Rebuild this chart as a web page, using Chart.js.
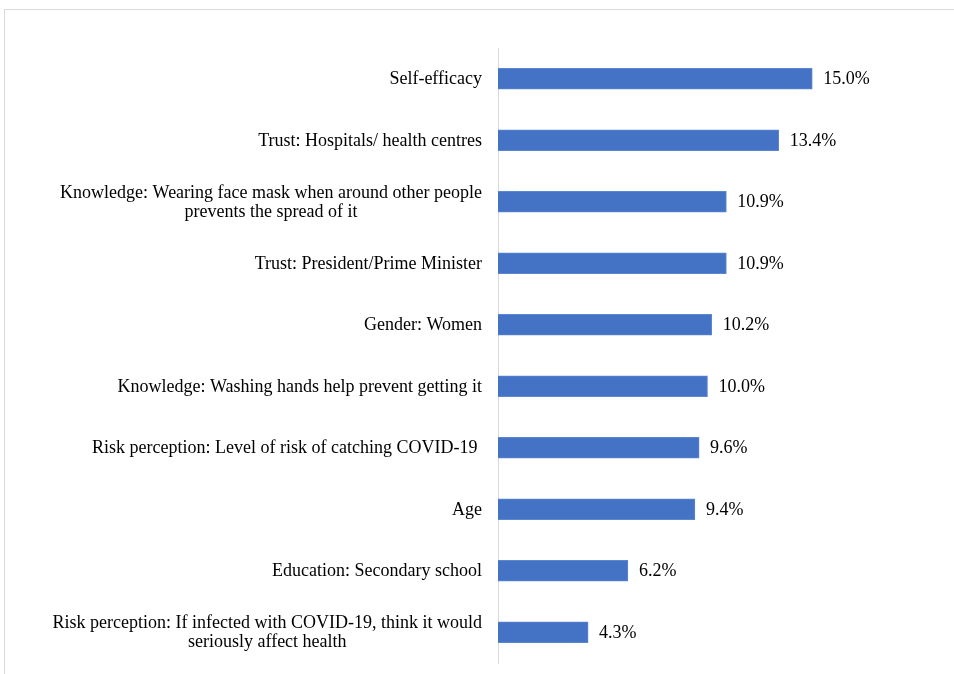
<!DOCTYPE html>
<html>
<head>
<meta charset="utf-8">
<script src="https://cdn.jsdelivr.net/npm/chart.js@4"></script>
<style>
  html, body { margin: 0; padding: 0; background: #fff; }
  #wrap { width: 954px; height: 674px; position: relative; }
</style>
</head>
<body>
<div id="wrap"><canvas id="factorChart"></canvas></div>
<script>
const ctx = document.getElementById('factorChart').getContext('2d');

// categories (top to bottom)
const labels = [
    ["Self-efficacy"],
    ["Trust: Hospitals/ health centres"],
    ["Knowledge: Wearing face mask when around other people", "prevents the spread of it"],
    ["Trust: President/Prime Minister"],
    ["Gender: Women"],
    ["Knowledge: Washing hands help prevent getting it"],
    ["Risk perception: Level of risk of catching COVID-19 "],
    ["Age"],
    ["Education: Secondary school"],
    ["Risk perception: If infected with COVID-19, think it would", "seriously affect health"]
]

// percent values
const values = [15.0, 13.4, 10.9, 10.9, 10.2, 10.0, 9.6, 9.4, 6.2, 4.3]

const FONT = '18px "Liberation Serif", "Times New Roman", serif';

// frame (top + left edge only, like the cropped source)
const framePlugin = {
    id: 'frame',
    beforeDraw(chart) {
        const c = chart.ctx;
        c.save();
        c.strokeStyle = '#d9d9d9';
        c.lineWidth = 1;
        c.beginPath();
        c.moveTo(4.5, 674);
        c.lineTo(4.5, 9.5);
        c.lineTo(954, 9.5);
        c.stroke();
        c.restore();
    }
};

// category labels: right aligned block, lines centered inside it
const labelPlugin = {
    id: 'catLabels',
    afterDraw(chart) {
        const c = chart.ctx;
        const yScale = chart.scales.y;
        const rightEdge = chart.chartArea.left - 16;
        c.save();
        c.font = FONT;
        c.fillStyle = '#000';
        c.textAlign = 'center';
        c.textBaseline = 'middle';
        const lineH = 19;
        labels.forEach((lines, i) => {
            const y = yScale.getPixelForTick(i) + 1;
            const w = Math.max(...lines.map(l => c.measureText(l).width));
            const cx = rightEdge - w / 2;
            const y0 = y - (lines.length - 1) * lineH / 2;
            lines.forEach((l, j) => c.fillText(l, cx, y0 + j * lineH));
        });
        c.restore();
    }
};

// value labels after each bar
const valuePlugin = {
    id: 'valueLabels',
    afterDatasetsDraw(chart) {
        const c = chart.ctx;
        const meta = chart.getDatasetMeta(0);
        c.save();
        c.font = FONT;
        c.fillStyle = '#000';
        c.textAlign = 'left';
        c.textBaseline = 'middle';
        meta.data.forEach((bar, i) => {
            c.fillText(values[i].toFixed(1) + '%', bar.x + 11, bar.y + 1);
        });
        c.restore();
    }
};

const data = {
    labels: labels.map(l => l.join(' ')),
    datasets: [
        {
            data: values,
            backgroundColor: '#4472C4',
            borderColor: '#5b86d0',
            borderWidth: 1,
            barThickness: 21,
        },
    ],
};

const config = {
    type: 'bar',
    data: data,
    options: {
        indexAxis: 'y',
        responsive: true,
        maintainAspectRatio: false,
        animation: false,
        layout: {
            padding: { top: 48, bottom: 11, left: 0, right: 37 }
        },
        plugins: {
            legend: false,
            tooltip: { enabled: false },
        },
        scales: {
            x: {
                display: false,
                min: 0,
                max: 20,
            },
            y: {
                grid: { display: false },
                border: { display: true, color: '#d9d9d9', width: 1 },
                ticks: { display: false },
                afterFit(scale) { scale.width = 498; },
            },
        },
    },
    plugins: [framePlugin, labelPlugin, valuePlugin],
};

const factorChart = new Chart(ctx, config);
</script>
</body>
</html>
